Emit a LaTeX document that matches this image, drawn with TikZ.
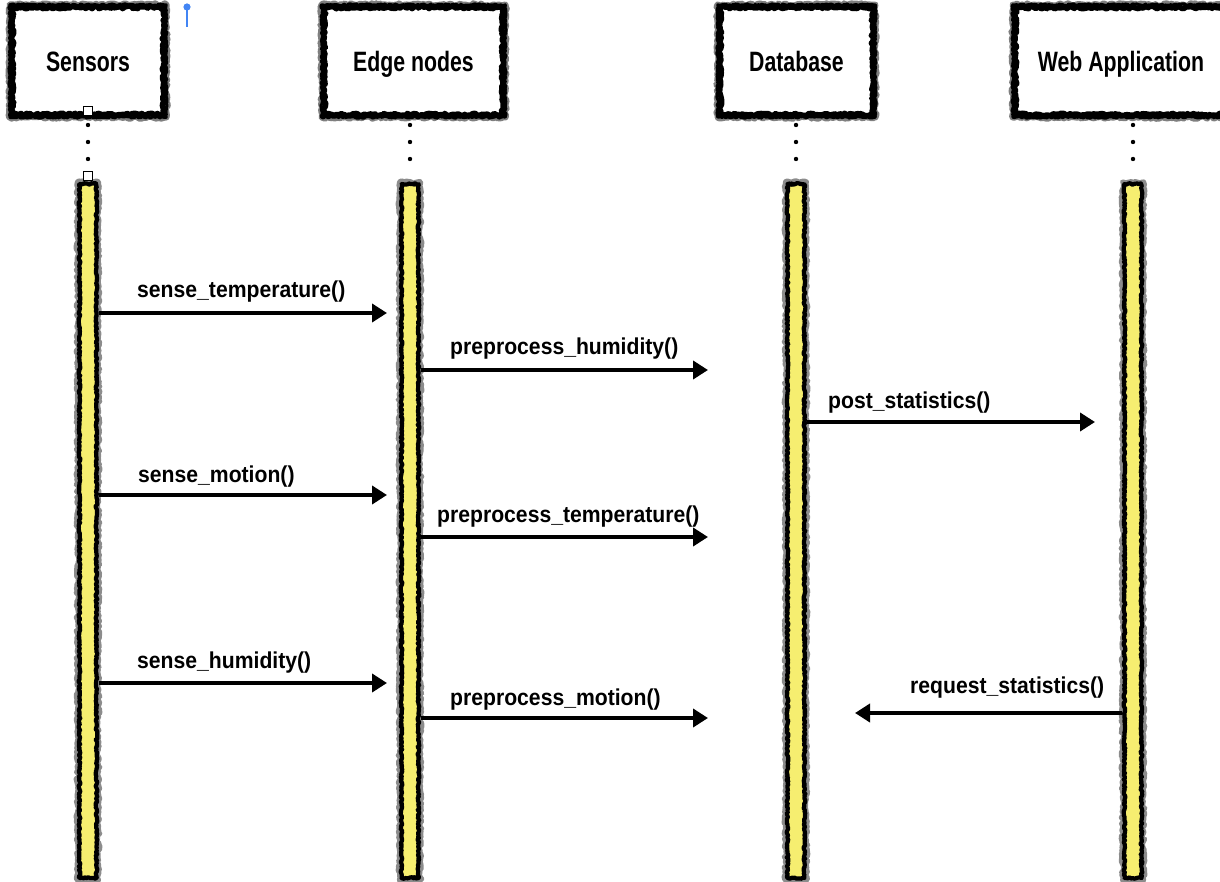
\documentclass[tikz,border=0pt]{standalone}
\usepackage{fontspec}
\setmainfont{Liberation Sans}
\newfontfamily\headfont{Liberation Sans}[FakeStretch=0.76]
\newfontfamily\msgfont{Liberation Sans}[FakeStretch=0.92]
\usetikzlibrary{arrows.meta,decorations.pathmorphing}
\definecolor{barfill}{RGB}{246,238,112}
\definecolor{pinblue}{RGB}{66,133,244}

\begin{document}
\begin{tikzpicture}[x=1pt,y=-1pt,
  rough/.style={decorate,decoration={random steps,segment length=2pt,amplitude=1.3pt},
    line join=round},
  roughfine/.style={decorate,decoration={random steps,segment length=1.5pt,amplitude=0.9pt},
    line join=round},
  headbox/.style={draw=black, line width=5.5pt, rough, fill=white, minimum width=#1,
    minimum height=107pt, inner sep=0pt, text height=22pt, text depth=0pt,
    font=\headfont\bfseries\fontsize{28}{30}\selectfont},
  headedge/.style={draw=black, line width=3pt, roughfine},
  headfuzz/.style={draw=black, line width=6.5pt, draw opacity=0.5, rough},
  lifebar/.style={draw=black, line width=4.2pt, roughfine, fill=barfill,
    minimum width=17pt, minimum height=694pt, inner sep=0pt},
  barfuzz/.style={draw=black, line width=5pt, draw opacity=0.45, rough},
  lifedot/.style={fill=black},
  handle/.style={draw=black, line width=0.8pt, fill=white, minimum size=9pt, inner sep=0pt},
  msg/.style={line width=4pt, -{Triangle[length=15pt,width=18pt]}},
  msglabel/.style={anchor=base west, inner sep=0pt,
    font=\msgfont\bfseries\fontsize{23}{26}\selectfont}]

\useasboundingbox (0,0) rectangle (1220,882);

% participants
\node[headbox=151pt] (sens) at (88,61) {Sensors};
\node[headbox=178pt] (edge) at (413.5,61) {Edge nodes};
\node[headbox=152pt] (db)   at (796.5,61) {Database};
\node[headbox=211pt] (web)  at (1121,61) {Web Application};
\foreach \n in {sens,edge,db,web}{
  \draw[headfuzz] (\n.north west) rectangle (\n.south east);
  \draw[headedge] (\n.north west) rectangle (\n.south east);
}

% dotted connections between header and activation bar
\foreach \x in {88,410,796,1133}
  \foreach \y in {125,142,159}
    \fill[lifedot] (\x,\y) circle (2.2pt);

% activation bars
\node[lifebar] (sbar) at (88,531)   {};
\node[lifebar] (ebar) at (410,531)  {};
\node[lifebar] (dbar) at (796,531)  {};
\node[lifebar] (wbar) at (1133,531) {};
\foreach \n in {sbar,ebar,dbar,wbar}
  \draw[barfuzz] (\n.north west) rectangle (\n.south east);

% selection handles and pin
\node[handle] (h1) at (88,111) {};
\node[handle] (h2) at (88,176) {};
\coordinate (pinbase) at (187,27);
\coordinate (pinhead) at (187,7);
\draw[pinblue, line width=1.4pt] (pinbase) -- (pinhead);
\fill[pinblue] (pinhead) circle (3.6pt);

% message end points
\coordinate (m1) at (387,313);
\coordinate (m2) at (708,370);
\coordinate (m3) at (1095,422);
\coordinate (m4) at (387,495);
\coordinate (m5) at (708,537);
\coordinate (m6) at (387,683);
\coordinate (m7) at (708,718);
\coordinate (m8) at (855,713);

% messages
\draw[msg] (sbar.east |- m1) -- (m1);
\node[msglabel] (l1) at (137,298) {sense\_temperature()};
\draw[msg] (ebar.east |- m2) -- (m2);
\node[msglabel] (l2) at (450,355) {preprocess\_humidity()};
\draw[msg] (dbar.east |- m3) -- (m3);
\node[msglabel] (l3) at (828,408) {post\_statistics()};
\draw[msg] (sbar.east |- m4) -- (m4);
\node[msglabel] (l4) at (138,482) {sense\_motion()};
\draw[msg] (ebar.east |- m5) -- (m5);
\node[msglabel] (l5) at (437,522) {preprocess\_temperature()};
\draw[msg] (sbar.east |- m6) -- (m6);
\node[msglabel] (l6) at (137,668) {sense\_humidity()};
\draw[msg] (ebar.east |- m7) -- (m7);
\node[msglabel] (l7) at (450,705) {preprocess\_motion()};
\draw[msg] (wbar.west |- m8) -- (m8);
\node[msglabel] (l8) at (910,693) {request\_statistics()};

\end{tikzpicture}
\end{document}
